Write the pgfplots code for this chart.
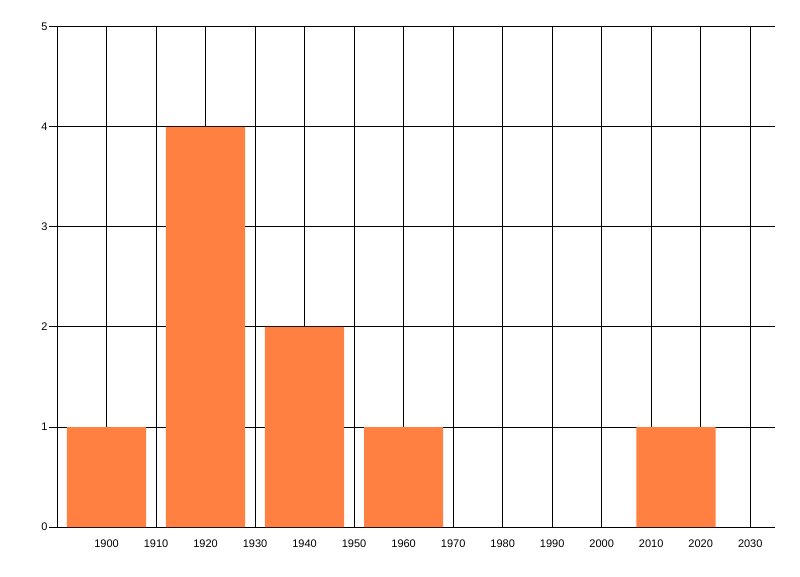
\documentclass[border=0pt]{standalone}
\usepackage{pgfplots}
\pgfplotsset{compat=1.18}
\usepackage{fontspec}
\setmainfont{Liberation Sans}
\definecolor{barorange}{RGB}{255,128,64}
\begin{document}
\begin{tikzpicture}[x=1pt,y=1pt]
\path[use as bounding box] (0,0) rectangle (800,576);
\begin{axis}[
  at={(57pt,49pt)}, anchor=south west,
  scale only axis, width=718pt, height=500pt,
  xmin=1890, xmax=2035, ymin=0, ymax=5,
  axis x line=bottom, axis y line=left,
  axis line style={-, black, line width=1pt},
  xtick={1900,1910,...,2030},
  ytick={0,1,2,3,4,5},
  extra x ticks={1890}, extra x tick labels={},
  extra x tick style={grid=major},
  xmajorgrids, ymajorgrids,
  grid style={black, line width=1pt},
  x tick style={draw=none},
  y tick style={black, line width=1pt},
  major tick length=8pt,
  tick align=outside,
  xticklabel style={font=\fontsize{11}{13}\selectfont, yshift=-1pt},
  yticklabel style={font=\fontsize{11}{13}\selectfont, xshift=2pt},
  /pgf/number format/assume math mode=true,
  /pgf/number format/set thousands separator={},
  clip=false,
]
\addplot[ybar, bar width=16, fill=barorange, draw=none, bar shift=0pt]
  coordinates {(1900,1) (1920,4) (1940,2) (1960,1) (2015,1)};
\end{axis}
\end{tikzpicture}
\end{document}
